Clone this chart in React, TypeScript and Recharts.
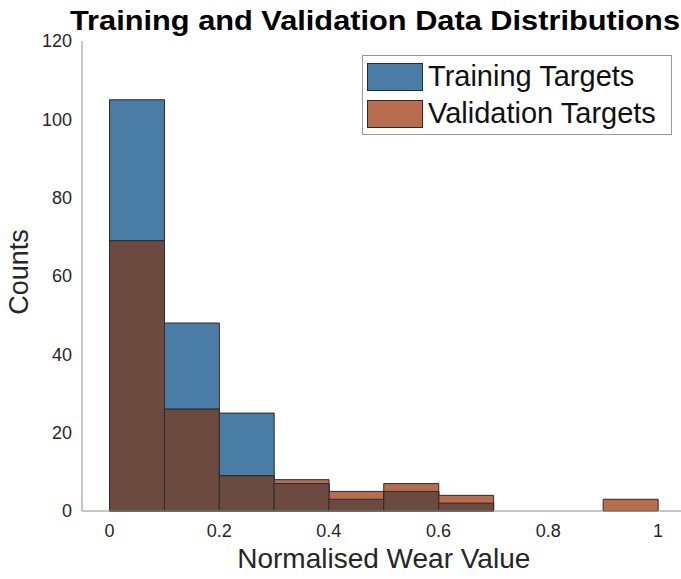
import React from 'react';
import { BarChart, Bar, XAxis, YAxis, Legend } from 'recharts';

// histogram bins (width 0.1) over the normalised wear value
const BIN_LABELS = ['0-0.1', '0.1-0.2', '0.2-0.3', '0.3-0.4', '0.4-0.5', '0.5-0.6', '0.6-0.7', '0.7-0.8', '0.8-0.9', '0.9-1'];
const BIN_CENTERS = [0.05, 0.15, 0.25, 0.35, 0.45, 0.55, 0.65, 0.75, 0.85, 0.95];
const TRAINING_COUNTS = [105, 48, 25, 7, 3, 5, 2, 0, 0, 0];
const VALIDATION_COUNTS = [69, 26, 9, 8, 5, 7, 4, 0, 0, 3];

const X_TICKS = [0, 0.2, 0.4, 0.6, 0.8, 1];
const Y_TICKS = [0, 20, 40, 60, 80, 100, 120];

const BLUE = '#4A7DA6';
const ORANGE = '#B86D50';
const OVERLAP = '#6B4A40';
const EDGE = '#2e2a28';
const AXIS = '#8f8f8f';
const FONT = '"Liberation Sans", Arial, Helvetica, sans-serif';

// overlap layer = the part both histograms share
const data = BIN_LABELS.map((bin, i) => ({
  bin,
  center: BIN_CENTERS[i],
  training: TRAINING_COUNTS[i],
  validation: VALIDATION_COUNTS[i],
  overlap: Math.min(TRAINING_COUNTS[i], VALIDATION_COUNTS[i]),
}));

const SERIES = [
  { key: 'training', name: 'Training Targets', color: BLUE },
  { key: 'validation', name: 'Validation Targets', color: ORANGE },
];

const W = 700;
const H = 579;
const BIN_PX = 55; // half-bin padding so bins line up with the numeric axis

const NoTick = () => <g />;

const LegendBox = () => (
  <div
    style={{
      width: 308,
      height: 76,
      border: '1px solid #9a9a9a',
      background: '#fff',
      boxSizing: 'content-box',
      paddingTop: 2,
    }}
  >
    {SERIES.map((s) => (
      <div key={s.key} style={{ display: 'flex', alignItems: 'center', height: 37, paddingLeft: 4 }}>
        <div
          style={{
            width: 54,
            height: 26,
            background: s.color,
            border: `1px solid ${EDGE}`,
            marginRight: 5,
          }}
        />
        <span style={{ fontFamily: FONT, fontSize: 29, color: '#111', lineHeight: '37px' }}>{s.name}</span>
      </div>
    ))}
  </div>
);

export default function App() {
  return (
    <div
      style={{
        position: 'absolute',
        left: 0,
        top: 0,
        width: 681,
        height: 579,
        overflow: 'hidden',
        background: '#fff',
      }}
    >
      <BarChart
        width={W}
        height={H}
        data={data}
        margin={{ top: 41, right: 14.5, bottom: 0, left: 0 }}
        barCategoryGap={0}
        barGap={0}
      >
        {/* one hidden band axis per layer so the bars overlap instead of sitting side by side */}
        <XAxis xAxisId="t" dataKey="bin" type="category" hide padding={{ left: BIN_PX / 2, right: BIN_PX / 2 }} />
        <XAxis xAxisId="v" dataKey="bin" type="category" hide padding={{ left: BIN_PX / 2, right: BIN_PX / 2 }} />
        <XAxis xAxisId="o" dataKey="bin" type="category" hide padding={{ left: BIN_PX / 2, right: BIN_PX / 2 }} />
        <XAxis
          xAxisId="num"
          dataKey="center"
          type="number"
          domain={[-0.05, 1.05]}
          ticks={X_TICKS}
          allowDataOverflow
          height={68}
          tickLine={false}
          tickSize={6}
          tickMargin={7}
          axisLine={{ stroke: AXIS }}
          tick={{ fill: '#262626', fontSize: 18, fontFamily: FONT }}
        />
        <XAxis
          xAxisId="top"
          dataKey="center"
          type="number"
          orientation="top"
          domain={[-0.05, 1.05]}
          ticks={X_TICKS}
          allowDataOverflow
          height={0}
          mirror
          tickSize={5}
          tickLine={{ stroke: AXIS }}
          axisLine={{ stroke: AXIS }}
          tick={NoTick}
        />
        <YAxis
          yAxisId="y"
          domain={[0, 120]}
          ticks={Y_TICKS}
          width={82}
          tickLine={false}
          tickSize={6}
          tickMargin={4}
          axisLine={{ stroke: AXIS }}
          tick={{ fill: '#262626', fontSize: 18, fontFamily: FONT }}
        />
        <YAxis
          yAxisId="yin"
          domain={[0, 120]}
          ticks={Y_TICKS}
          width={0}
          mirror
          tickSize={5}
          tickLine={{ stroke: AXIS }}
          axisLine={false}
          tick={NoTick}
        />
        <Legend
          layout="horizontal"
          align="center"
          verticalAlign="middle"
          content={<LegendBox />}
          wrapperStyle={{ left: 362, top: 55, width: 310, height: 80 }}
        />
        <Bar
          xAxisId="t"
          yAxisId="y"
          dataKey="training"
          name="Training Targets"
          fill={BLUE}
          stroke={EDGE}
          strokeWidth={1}
          isAnimationActive={false}
        />
        <Bar
          xAxisId="v"
          yAxisId="y"
          dataKey="validation"
          name="Validation Targets"
          fill={ORANGE}
          stroke={EDGE}
          strokeWidth={1}
          isAnimationActive={false}
        />
        <Bar
          xAxisId="o"
          yAxisId="y"
          dataKey="overlap"
          legendType="none"
          fill={OVERLAP}
          stroke={EDGE}
          strokeWidth={1}
          isAnimationActive={false}
        />
      </BarChart>

      {/* title and axis labels */}
      <svg
        width={681}
        height={579}
        style={{ position: 'absolute', left: 0, top: 0, pointerEvents: 'none' }}
      >
        <text
          x={70}
          y={30}
          fontFamily={FONT}
          fontWeight="bold"
          fontSize={28}
          fill="#000"
          textLength={610}
          lengthAdjust="spacingAndGlyphs"
        >
          Training and Validation Data Distributions
        </text>
        <text x={383.75} y={568} fontFamily={FONT} fontSize={28} fill="#262626" textAnchor="middle">
          Normalised Wear Value
        </text>
        <text
          x={0}
          y={0}
          transform="translate(28 272) rotate(-90)"
          fontFamily={FONT}
          fontSize={27}
          fill="#262626"
          textAnchor="middle"
        >
          Counts
        </text>
      </svg>
    </div>
  );
}
